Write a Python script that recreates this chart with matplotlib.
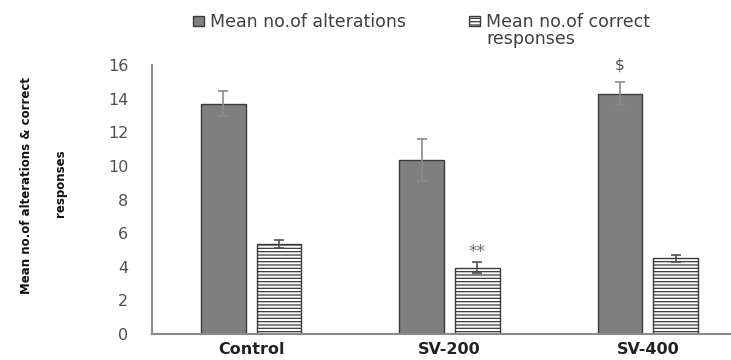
import matplotlib.pyplot as plt
import numpy as np

groups = ['Control', 'SV-200', 'SV-400']
alterations = [13.7, 10.35, 14.3]
alterations_err = [0.75, 1.25, 0.7]
correct = [5.35, 3.95, 4.5]
correct_err = [0.25, 0.35, 0.2]
y_ticks = [0, 2, 4, 6, 8, 10, 12, 14, 16]

plt.rcParams['hatch.linewidth'] = 0.9
plt.rcParams['hatch.color'] = '#9a9a9a'

fig = plt.figure(figsize=(7.31, 3.60), dpi=100)
ax = fig.add_axes([152 / 731, 26 / 360, 595 / 731, 269 / 360])

x = np.arange(len(groups))
width = 0.225
gap = 0.055

ax.bar(x - width / 2 - gap / 2, alterations, width=width, color='#7f7f7f',
       edgecolor='#3a3a3a', linewidth=1.0, label='Mean no.of alterations')
ax.bar(x + width / 2 + gap / 2, correct, width=width, color='white',
       edgecolor='#3a3a3a', linewidth=1.0, hatch='-----',
       label='Mean no.of correct')

ax.errorbar(x - width / 2 - gap / 2, alterations, yerr=alterations_err, fmt='none',
            ecolor='#8a8a8a', elinewidth=1.2, capsize=3.5, capthick=1.2)
ax.errorbar(x + width / 2 + gap / 2, correct, yerr=correct_err, fmt='none',
            ecolor='#505050', elinewidth=1.2, capsize=3.5, capthick=1.2)

# significance marks
ax.text(1 + width / 2 + gap / 2, correct[1] + correct_err[1] + 0.55, '**',
        ha='center', va='center', fontsize=12, color='#6a6a6a')
ax.text(2 - width / 2 - gap / 2, alterations[2] + alterations_err[2] + 1.0, '$',
        ha='center', va='center', fontsize=11, color='#505050')

ax.set_xlim(-0.5, 2.5)
ax.set_ylim(0, 16)
ax.set_yticks(y_ticks)
ax.set_yticklabels([str(t) for t in y_ticks], fontsize=11.5, color='#505050')
ax.set_xticks(x)
ax.set_xticklabels(groups, fontsize=11.5, fontweight='bold', color='#222222')
ax.tick_params(axis='both', length=0)
ax.tick_params(axis='y', pad=17)
ax.tick_params(axis='x', pad=6)

for side in ['top', 'right']:
    ax.spines[side].set_visible(False)
ax.spines['left'].set_color('#8a8a8a')
ax.spines['left'].set_linewidth(1.5)
ax.spines['bottom'].set_color('#8a8a8a')
ax.spines['bottom'].set_linewidth(1.5)

# y label drawn as two separate lines
fig.text(27 / 731, 1 - 185 / 360, 'Mean no.of alterations & correct',
         rotation=90, ha='center', va='center', fontsize=8.5, fontweight='bold',
         color='#111111')
fig.text(60 / 731, 1 - 183 / 360, 'responses',
         rotation=90, ha='center', va='center', fontsize=8.5, fontweight='bold',
         color='#111111')

leg = fig.legend(loc='center left', bbox_to_anchor=(193 / 731, 1 - 22 / 360), ncol=2,
                 frameon=False, fontsize=12.5, handlelength=0.65, handleheight=0.55,
                 handletextpad=0.35, columnspacing=3.6, borderpad=0, borderaxespad=0)
for t in leg.get_texts():
    t.set_color('#404040')

# second line of the wrapped legend label
fig.canvas.draw()
bb = leg.get_texts()[1].get_window_extent()
fig.text(bb.x0 / fig.bbox.width, 1 - 39 / 360, 'responses', ha='left', va='center',
         fontsize=12.5, color='#404040')

fig.savefig('out.png', dpi=100)
